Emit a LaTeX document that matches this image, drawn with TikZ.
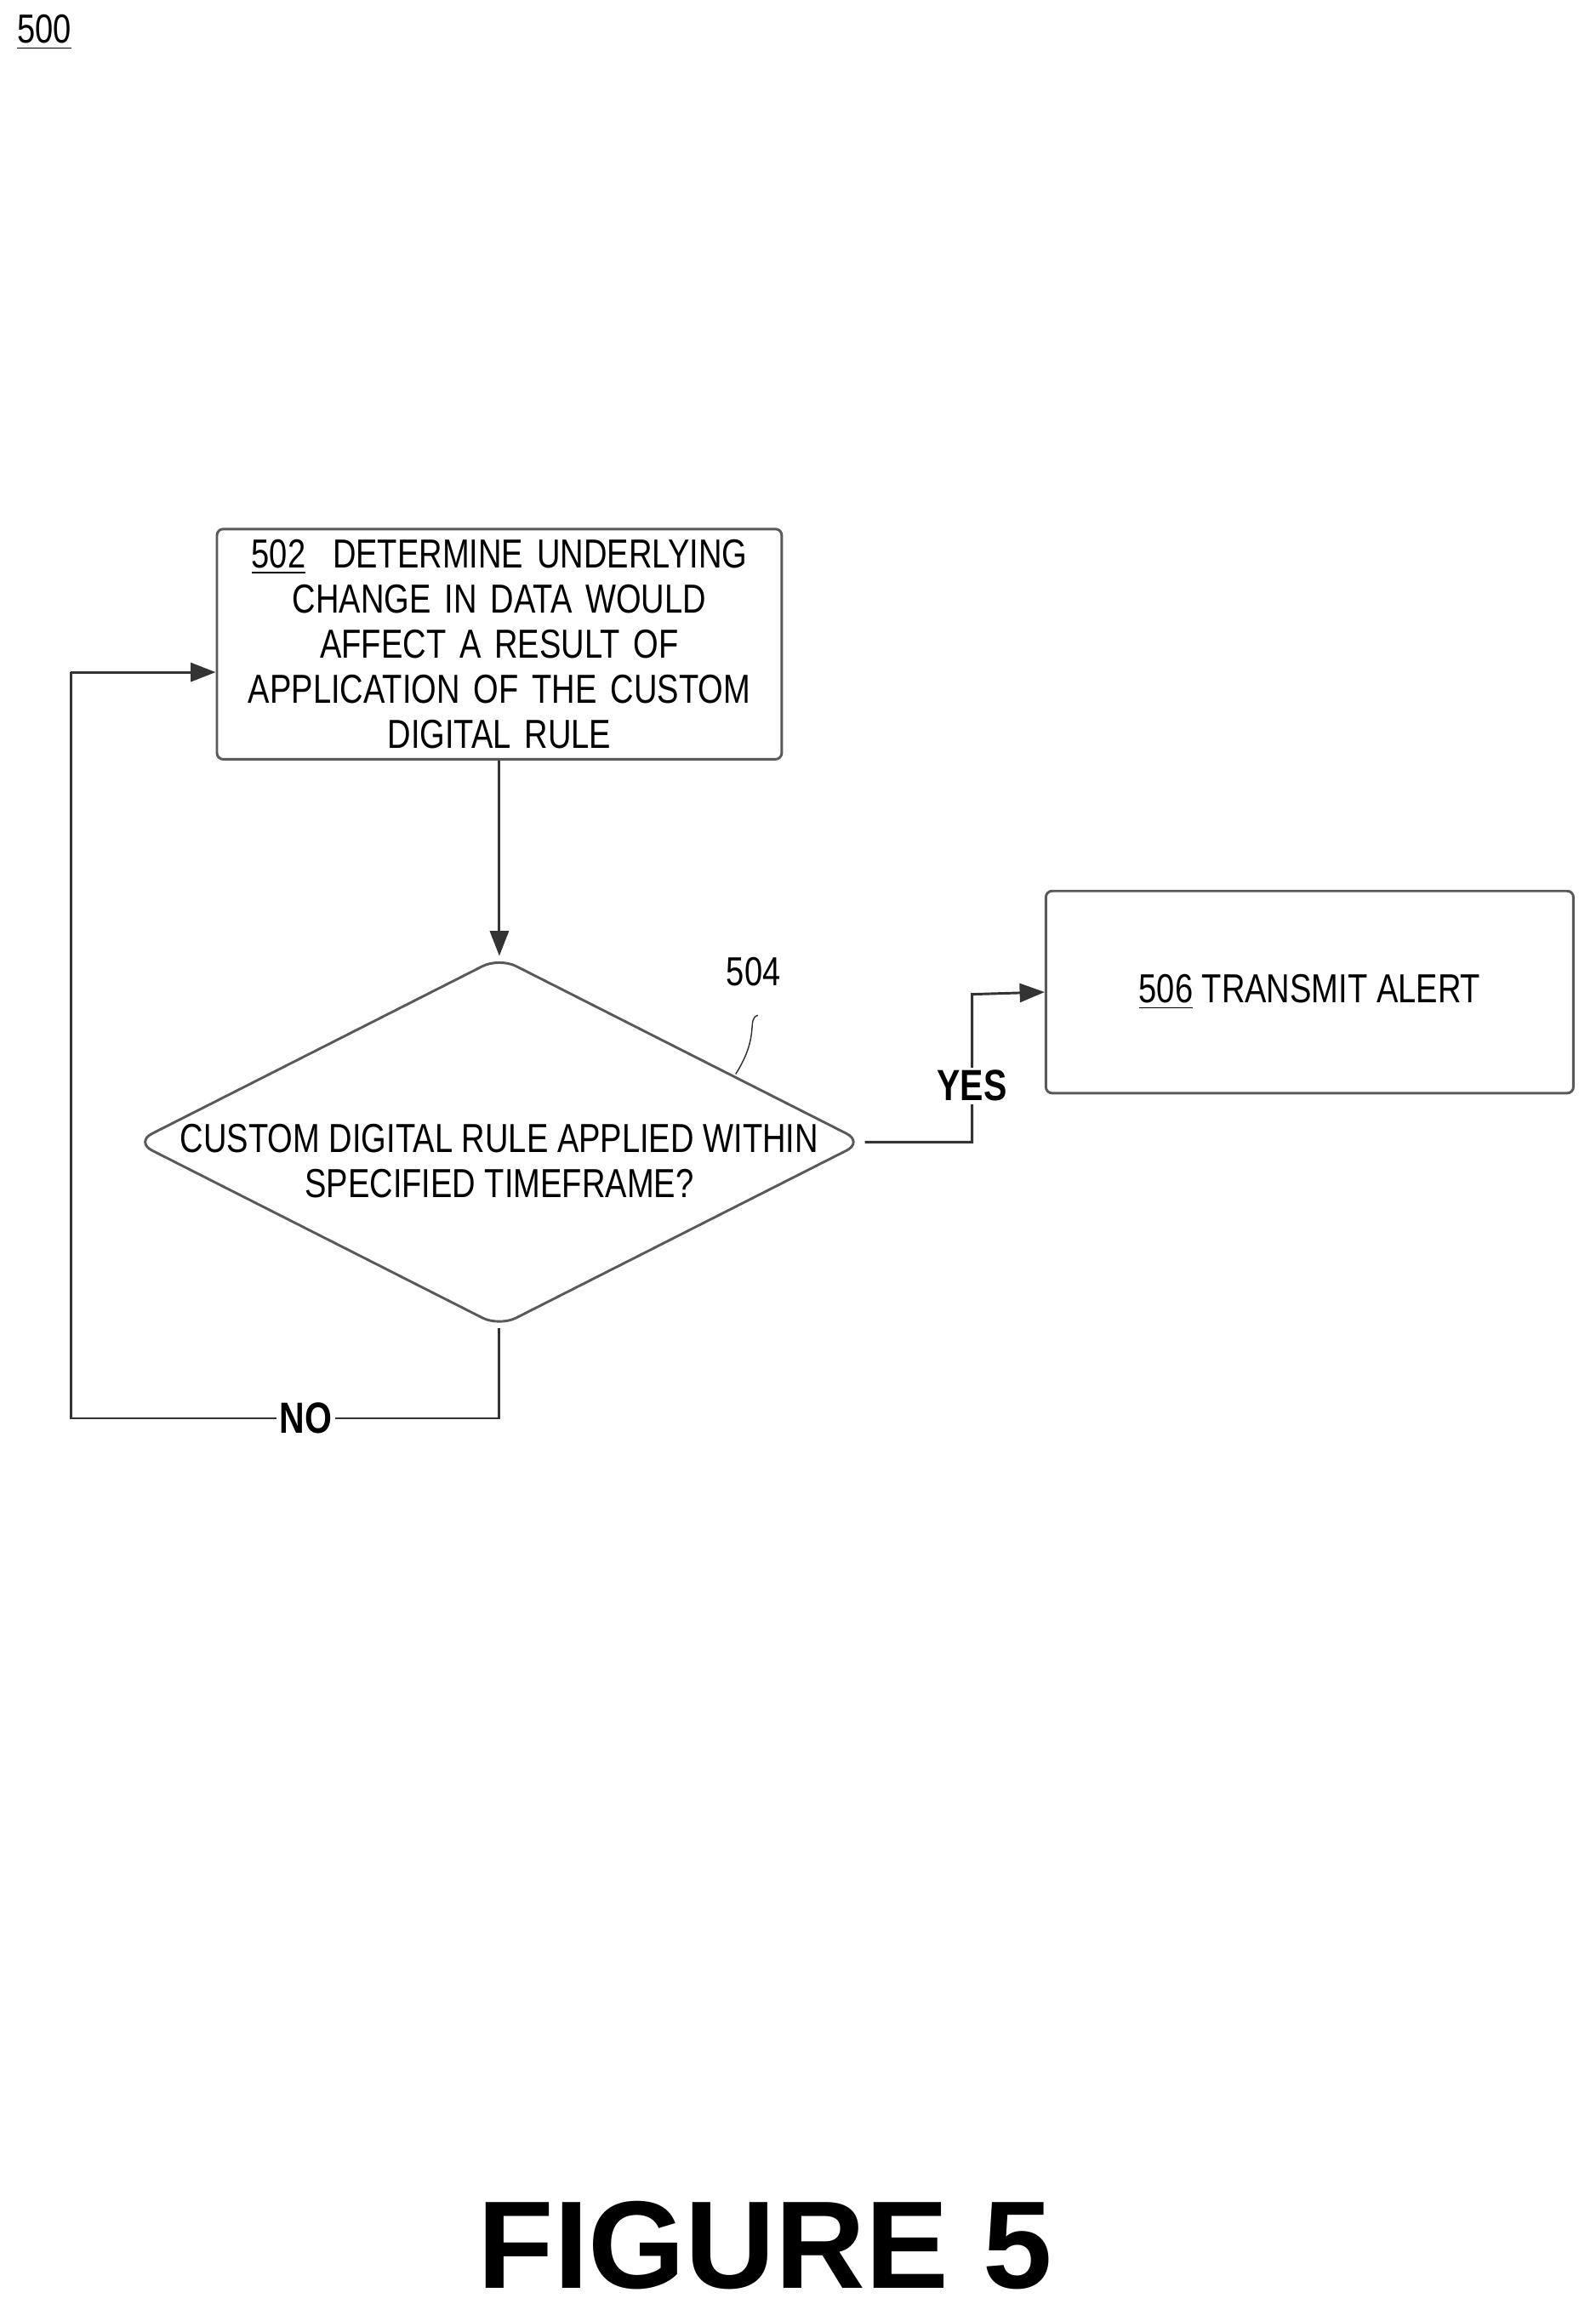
\documentclass[tikz,border=0pt]{standalone}
\usepackage{fontspec}
\setmainfont{Liberation Sans}[FakeStretch=0.8]
\newfontfamily\figfont{Liberation Sans}
\usetikzlibrary{shapes.geometric,arrows.meta}
\begin{document}
\begin{tikzpicture}[x=0.016667cm,y=-0.016667cm,
    every node/.style={font=\fontsize{13}{14.5}\selectfont},
    box/.style={draw,thick,gray!70!black,rounded corners=2pt,text=black,align=center},
    line/.style={draw,gray!40!black,thick},
    arr/.style={line,-{Triangle[length=8pt,width=6pt]}}]
  \useasboundingbox (0,0) rectangle (1080,1571);
  \node at (30,22) {\underline{500}};
  \node[box,text width=6.0cm,minimum width=6.37cm,minimum height=2.47cm] (b502) at (338,436)
    {\underline{502}\ \ DETERMINE UNDERLYING\\CHANGE IN DATA WOULD\\AFFECT A RESULT OF\\APPLICATION OF THE CUSTOM\\DIGITAL RULE};
  \node[box,diamond,aspect=1.97,inner sep=0pt,minimum width=8.22cm,minimum height=4.17cm,rounded corners=6pt] (d504) at (338,773) {};
  \node[align=center] at (338,786) {CUSTOM DIGITAL RULE APPLIED WITHIN\\SPECIFIED TIMEFRAME?};
  \node[box,minimum width=5.95cm,minimum height=2.28cm] (b506) at (886.5,671.5) {\underline{506} TRANSMIT ALERT};
  \node (l504) at (510,658) {504};
  \draw[line,thin] (l504.south) ++(3,12) .. controls (505,690) and (515,700) .. (498,727);
  \draw[arr] (b502.south) -- (d504.north);
  \coordinate (yesbend) at (658,673);
  \draw[arr] (d504.east) -| (yesbend) -- (b506.west);
  \node[fill=white,inner sep=1pt,font=\fontsize{14}{14}\bfseries] at (658,735) {YES};
  \coordinate (nolow) at (338,960);
  \coordinate (noleft) at (48,960);
  \coordinate (noup) at (48,455);
  \draw[line] (d504.south) -- (nolow) -- (noleft) -- (noup);
  \draw[arr] (noup) -- (noup -| b502.west);
  \node[fill=white,inner sep=1pt,font=\fontsize{14}{14}\bfseries] at (207,960) {NO};
  \node[font=\figfont\fontsize{40}{40}\bfseries] at (518,1520) {FIGURE 5};
\end{tikzpicture}
\end{document}
